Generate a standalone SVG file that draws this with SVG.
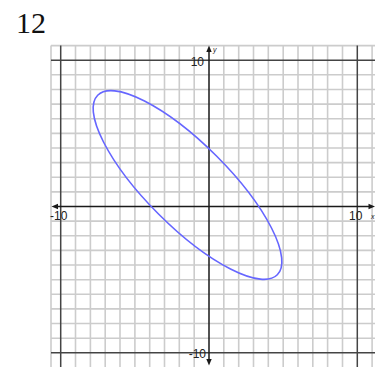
<svg xmlns="http://www.w3.org/2000/svg" width="375" height="367" viewBox="0 0 375 367">
<style>
.g{stroke:#cccccc;stroke-width:1.6;fill:none}
.b{stroke:#444;stroke-width:1.5;fill:none}
.ax{stroke:#1a1a1a;stroke-width:1.5;fill:none}
.t{font-family:"Liberation Sans",Arial,sans-serif;font-size:12px;fill:#222}
.ar{fill:#1a1a1a}
</style>
<rect width="375" height="367" fill="#fff"/>
<text x="16" y="33" font-family="Liberation Serif,'Times New Roman',serif" font-size="30" fill="#111">12</text>
<g id="grid">
<path class="g" d="M51 45.6V367M75.5 45.6V367M90.4 45.6V367M105.2 45.6V367M120 45.6V367M134.9 45.6V367M149.7 45.6V367M164.5 45.6V367M179.3 45.6V367M194.2 45.6V367M223.8 45.6V367M238.7 45.6V367M253.5 45.6V367M268.3 45.6V367M283.2 45.6V367M298 45.6V367M312.8 45.6V367M327.6 45.6V367M342.5 45.6V367M372.1 45.6V367"/>
<path class="g" d="M51 45.6H375M51 74.8H375M51 89.5H375M51 104.1H375M51 118.7H375M51 133.4H375M51 148H375M51 162.6H375M51 177.2H375M51 191.9H375M51 221.1H375M51 235.8H375M51 250.4H375M51 265H375M51 279.7H375M51 294.3H375M51 308.9H375M51 323.5H375M51 338.2H375"/>
<path class="b" d="M60.7 45.6V367M357.3 45.6V367M51 60.2H375M51 352.8H375"/>
</g>
<g id="axes">
<path class="ax" d="M209 50V361M56 206.5H371"/>
<path class="ar" d="M209 45.5L206.3 52L211.7 52Z"/>
<path class="ar" d="M209 365.5L206.3 359L211.7 359Z"/>
<path class="ar" d="M51.5 206.5L58 203.8L58 209.2Z"/>
<path class="ar" d="M375 206.5L368.5 203.8L368.5 209.2Z"/>
</g>
<g id="labels">
<text class="t" x="204" y="65.5" text-anchor="end">10</text>
<text class="t" x="50" y="220">-10</text>
<text class="t" x="349" y="220">10</text>
<text class="t" x="206" y="357.5" text-anchor="end">-10</text>
<text x="213" y="52" font-family="Liberation Sans,Arial,sans-serif" font-size="7" font-style="italic" fill="#222">y</text>
<text x="371" y="219" font-family="Liberation Sans,Arial,sans-serif" font-size="7" font-style="italic" fill="#222">x</text>
</g>
<g id="curve">
<ellipse cx="187.5" cy="185" rx="127" ry="41" transform="rotate(45 187.5 185)" fill="none" stroke="#6666ff" stroke-width="1.6"/>
</g>
</svg>
